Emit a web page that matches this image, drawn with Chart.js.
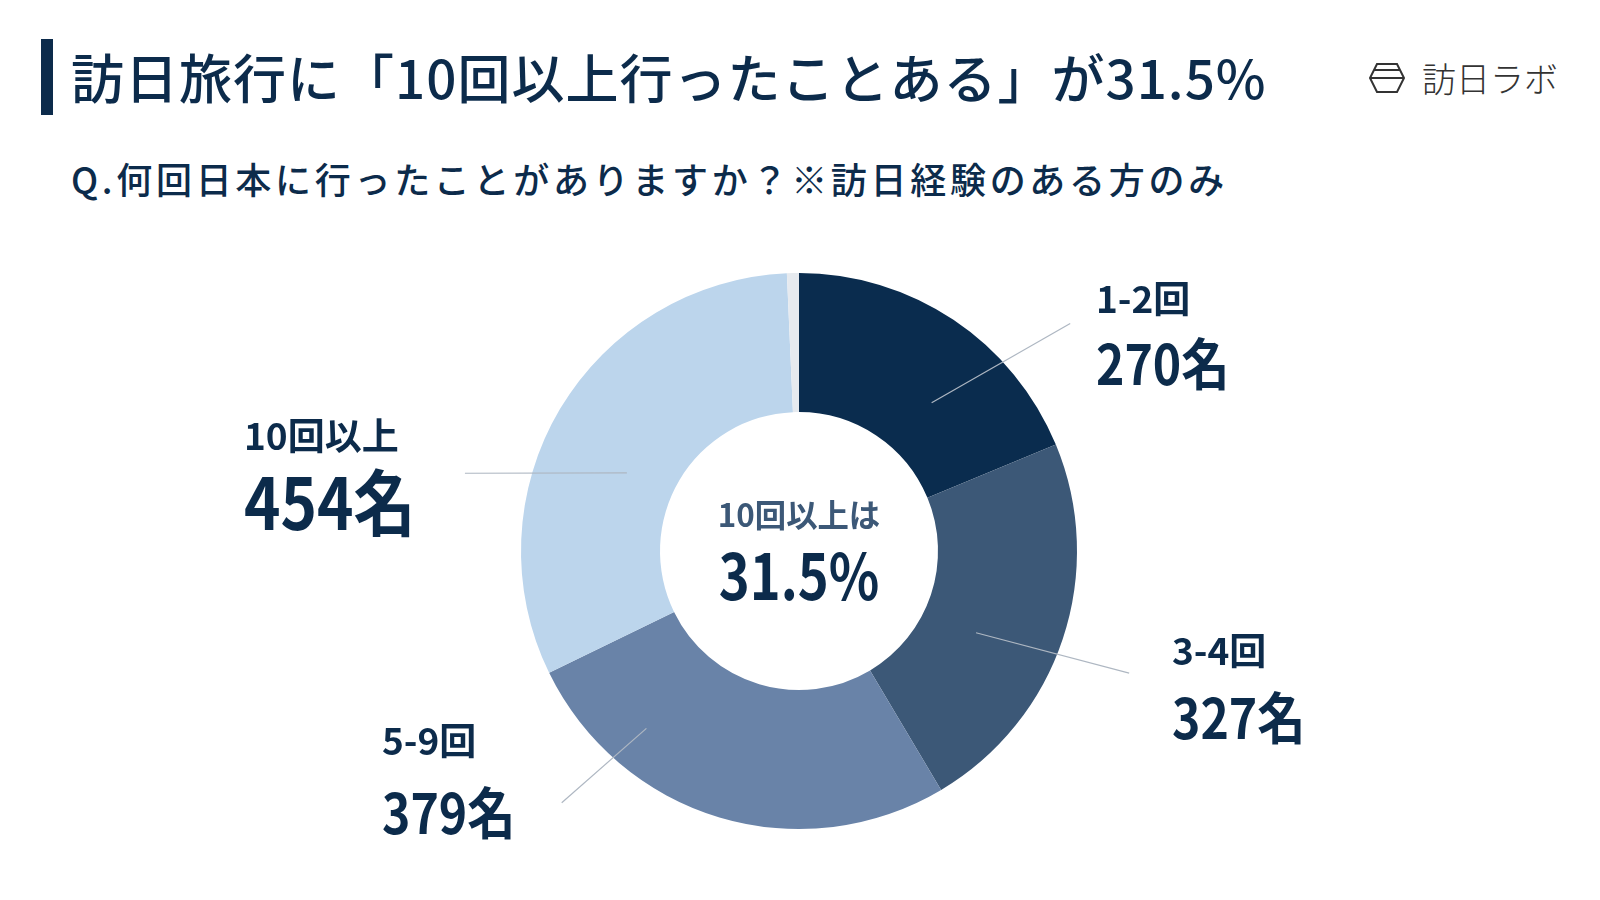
<!DOCTYPE html>
<html lang="ja">
<head>
<meta charset="utf-8">
<script src="https://cdn.jsdelivr.net/npm/chart.js@4.4.1/dist/chart.umd.min.js"></script>
<style>
  html, body { margin: 0; padding: 0; background: #fff; }
  #page { position: relative; width: 1600px; height: 900px; overflow: hidden; font-family: "Noto Sans CJK JP", "Noto Sans", sans-serif; color: #0c2b4b; }
  #bar { position: absolute; left: 41px; top: 39px; width: 12px; height: 76px; background: #0c2b4b; }
  #title { position: absolute; left: 71px; top: 44px; font-size: 53px; font-weight: 500; line-height: 64px; letter-spacing: 1px; white-space: nowrap; }
  #sub { position: absolute; left: 71px; top: 154px; font-size: 36px; font-weight: 500; line-height: 48px; letter-spacing: 3.7px; white-space: nowrap; }
  #logo { position: absolute; left: 1368px; top: 58px; display: flex; align-items: center; color: #333; }
  #logo span { font-size: 34px; font-weight: 300; margin-left: 16px; line-height: 40px; }
  #wrap { position: absolute; left: 0; top: 0; width: 1600px; height: 900px; }
</style>
</head>
<body>
<div id="page">
  <div id="bar"></div>
  <div id="title">訪日旅行に「10回以上行ったことある」が31.5%</div>
  <div id="sub">Q.何回日本に行ったことがありますか？※訪日経験のある方のみ</div>
  <div id="logo">
    <svg width="38" height="32" viewBox="0 0 38 32">
      <polygon points="9,2 29,2 36,16 29,30 9,30 2,16" fill="none" stroke="#333" stroke-width="2"/>
      <line x1="2" y1="16" x2="36" y2="16" stroke="#333" stroke-width="2"/>
      <line x1="6" y1="8" x2="32" y2="8" stroke="#333" stroke-width="2"/>
    </svg>
    <span>訪日ラボ</span>
  </div>
  <div id="wrap"><canvas id="chart"></canvas></div>
</div>
<script>
// data
const categories = ["1-2回", "3-4回", "5-9回", "10回以上", "その他"];
const counts = [270, 327, 379, 454, 10];
const colors = ["#0a2c4e", "#3c5877", "#6983a8", "#bcd5ec", "#e6eaef"];

// label placement relative to the donut centre (px) and leader lines (deg clockwise from top, radius)
const labelLayout = [
  { dx: 297, catY: -252, valY: -187, valSize: 56, line: [41.8, 199, 50.0, 354] },
  { dx: 373, catY: 100, valY: 167, valSize: 56, line: [114.8, 195, 110.3, 352] },
  { dx: -417, catY: 190, valY: 262, valSize: 56, line: [220.7, 234, 223.3, 346] },
  { dx: -555, catY: -115, valY: -48, valSize: 72, line: [294.4, 189, 283.1, 343] }
];

const FONT = '"Noto Sans CJK JP", "Noto Sans", sans-serif';
const navy = "#0c2b4b";

function polar(cx, cy, deg, r) {
  const a = deg * Math.PI / 180;
  return [cx + r * Math.sin(a), cy - r * Math.cos(a)];
}

function condensedText(ctx, txt, x, y, size, weight, color, sx, align) {
  ctx.save();
  ctx.font = `${weight} ${size}px ${FONT}`;
  ctx.fillStyle = color;
  ctx.textBaseline = "middle";
  const w = ctx.measureText(txt).width * sx;
  let x0 = x;
  if (align === "center") x0 = x - w / 2;
  ctx.translate(x0, y);
  ctx.scale(sx, 1);
  ctx.textAlign = "left";
  ctx.fillText(txt, 0, 0);
  ctx.restore();
}

const labelsPlugin = {
  id: "labelsPlugin",
  afterDatasetsDraw(chart) {
    const ctx = chart.ctx;
    const arc = chart.getDatasetMeta(0).data[0];
    const cx = arc.x, cy = arc.y;

    // leader lines
    labelLayout.forEach(l => {
      const [x1, y1] = polar(cx, cy, l.line[0], l.line[1]);
      const [x2, y2] = polar(cx, cy, l.line[2], l.line[3]);
      ctx.save();
      ctx.strokeStyle = "#aeb7c2";
      ctx.lineWidth = 1.2;
      ctx.beginPath();
      ctx.moveTo(x1, y1);
      ctx.lineTo(x2, y2);
      ctx.stroke();
      ctx.restore();
    });

    // category labels + counts
    labelLayout.forEach((l, i) => {
      condensedText(ctx, categories[i], cx + l.dx, cy + l.catY, 37, 700, navy, 1.0, "left");
      condensedText(ctx, counts[i] + "名", cx + l.dx, cy + l.valY, l.valSize, 700, navy, 0.86, "left");
    });

    // centre text
    const total = counts.reduce((a, b) => a + b, 0);
    const share = (counts[3] / total * 100).toFixed(1) + "%";
    condensedText(ctx, "10回以上は", cx, cy - 36, 32, 700, "#3c5877", 0.98, "center");
    condensedText(ctx, share, cx, cy + 25, 64, 700, navy, 0.82, "center");
  }
};

new Chart(document.getElementById("chart"), {
  type: "doughnut",
  data: {
    labels: categories,
    datasets: [{
      data: counts,
      backgroundColor: colors,
      borderWidth: 0,
      hoverOffset: 0
    }]
  },
  options: {
    responsive: true,
    maintainAspectRatio: false,
    animation: false,
    cutout: "50%",
    rotation: 0,
    layout: { padding: { top: 273, bottom: 71, left: 521, right: 523 } },
    plugins: {
      legend: { display: false },
      tooltip: { enabled: false }
    }
  },
  plugins: [labelsPlugin]
});
</script>
</body>
</html>
